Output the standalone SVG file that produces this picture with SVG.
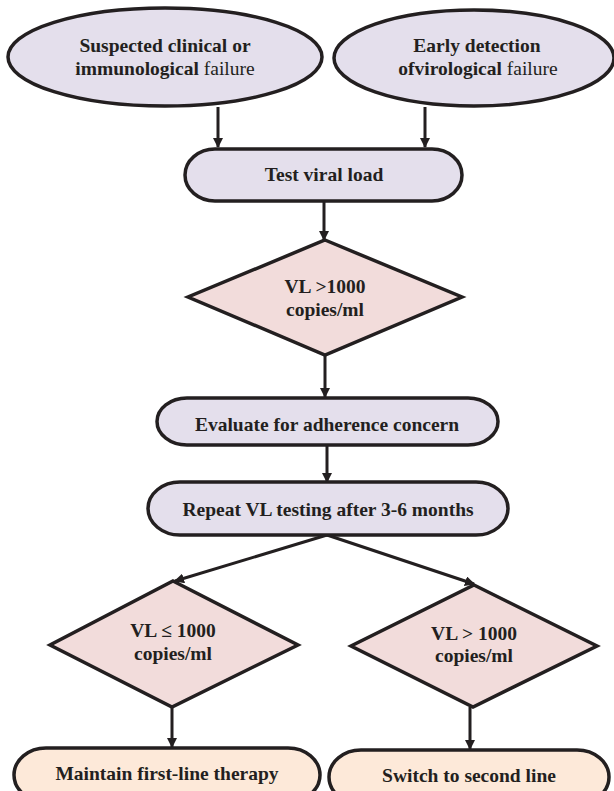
<svg xmlns="http://www.w3.org/2000/svg" width="614" height="791" viewBox="0 0 614 791">
<style>
.lav{fill:#e4dfec;stroke:#231f20;stroke-width:3.5}
.pink{fill:#f2dcdb;stroke:#231f20;stroke-width:3.5}
.peach{fill:#fde9d9;stroke:#231f20;stroke-width:3.5}
.t{font-family:"Liberation Serif","Times New Roman",serif;font-size:19.5px;fill:#231f20;text-anchor:middle}
.b{font-weight:bold}
.n{font-weight:normal}
.c{fill:none;stroke:#231f20;stroke-width:3}
</style>
<defs>
<marker id="ah" markerWidth="10" markerHeight="10" refX="9" refY="5" orient="auto" markerUnits="userSpaceOnUse">
<path d="M0,0 L10,5 L0,10 z" fill="#231f20"/>
</marker>
</defs>
<rect width="614" height="791" fill="#ffffff"/>
<g id="connectors">
<line class="c" x1="218" y1="107" x2="218" y2="147" marker-end="url(#ah)"/>
<line class="c" x1="425" y1="107" x2="425" y2="147" marker-end="url(#ah)"/>
<line class="c" x1="324" y1="201" x2="324" y2="240" marker-end="url(#ah)"/>
<line class="c" x1="325" y1="355" x2="325" y2="397" marker-end="url(#ah)"/>
<line class="c" x1="327" y1="446" x2="327" y2="482" marker-end="url(#ah)"/>
<line class="c" x1="327" y1="535" x2="175" y2="581" marker-end="url(#ah)"/>
<line class="c" x1="327" y1="535" x2="474" y2="584" marker-end="url(#ah)"/>
<line class="c" x1="172" y1="707" x2="172" y2="747" marker-end="url(#ah)"/>
<line class="c" x1="470" y1="707" x2="470" y2="749" marker-end="url(#ah)"/>
</g>
<g id="suspected">
<ellipse class="lav" cx="165" cy="57" rx="157" ry="49"/>
<text class="t b" x="165" y="52">Suspected clinical or</text>
<text class="t" x="165" y="75"><tspan class="b">immunological</tspan><tspan class="n"> failure</tspan></text>
</g>
<g id="early">
<ellipse class="lav" cx="474" cy="58" rx="140" ry="48"/>
<text class="t b" x="477" y="52">Early detection</text>
<text class="t" x="478" y="75"><tspan class="b">ofvirological</tspan><tspan class="n"> failure</tspan></text>
</g>
<g id="test">
<rect class="lav" x="185" y="149" width="277" height="52" rx="30" ry="26"/>
<text class="t b" x="324" y="181">Test viral load</text>
</g>
<g id="vl1">
<polygon class="pink" points="325,240 462,297 325,355 188,297"/>
<text class="t b" x="325" y="293">VL &gt;1000</text>
<text class="t b" x="325" y="316">copies/ml</text>
</g>
<g id="evaluate">
<rect class="lav" x="157" y="398" width="341" height="47" rx="30" ry="23.5"/>
<text class="t b" x="327" y="431">Evaluate for adherence concern</text>
</g>
<g id="repeat">
<rect class="lav" x="148" y="482" width="360" height="53" rx="32" ry="26.5"/>
<text class="t b" x="328" y="516">Repeat VL testing after 3-6 months</text>
</g>
<g id="vl2">
<polygon class="pink" points="173,581 298,645 172,707 50,645"/>
<text class="t b" x="173" y="637">VL ≤ 1000</text>
<text class="t b" x="173" y="660">copies/ml</text>
</g>
<g id="vl3">
<polygon class="pink" points="474,585 597,646 473,707 351,646"/>
<text class="t b" x="474" y="640">VL &gt; 1000</text>
<text class="t b" x="474" y="662">copies/ml</text>
</g>
<g id="maintain">
<rect class="peach" x="14" y="748" width="306" height="54" rx="32" ry="27"/>
<text class="t b" x="167" y="780">Maintain first-line therapy</text>
</g>
<g id="switch">
<rect class="peach" x="329" y="750" width="280" height="54" rx="32" ry="27"/>
<text class="t b" x="469" y="782">Switch to second line</text>
</g>
</svg>
